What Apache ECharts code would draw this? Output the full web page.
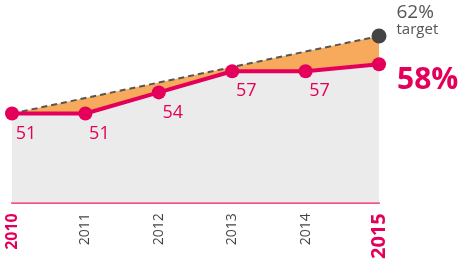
<!DOCTYPE html>
<html><head><meta charset="utf-8">
<script src="https://cdn.jsdelivr.net/npm/echarts@6/dist/echarts.min.js"></script>
<style>html,body{margin:0;padding:0;background:#fff}#c{width:460px;height:262px}</style>
</head><body><div id="c"></div>
<script>
const years = ['2010','2011','2012','2013','2014','2015'];
const actual = [51, 51, 54, 57, 57, 58];
const target = [51, null, null, null, null, 62];
const targetLabel = '62%';
const targetNote = 'target';
const finalLabel = '58%';

const PINK = '#e4005a';
const FONT = '"Open Sans", "Noto Sans", sans-serif';
const last = years.length - 1;

const actualData = actual.map((v, i) => {
  if (i === last) {
    return { value: v, label: { show: true, position: 'right', distance: 11, offset: [0, 16],
      formatter: finalLabel, fontSize: 30, fontWeight: 'bold', color: PINK, fontFamily: FONT } };
  }
  return { value: v };
});
const targetData = target.map((v, i) => {
  if (i === last) {
    return { value: v, symbol: 'circle', symbolSize: 15,
      itemStyle: { color: '#444' },
      label: { show: true, position: 'right', distance: 10, offset: [0, -16],
        formatter: '{a|' + targetLabel + '}\n{b|' + targetNote + '}',
        rich: { a: { fontSize: 19, color: '#555', fontFamily: FONT, lineHeight: 20 },
                b: { fontSize: 15, color: '#555', fontFamily: FONT, lineHeight: 15 } } } };
  }
  return { value: v, symbol: 'none' };
});

const chart = echarts.init(document.getElementById('c'), null, { renderer: 'canvas' });
chart.setOption({
  animation: false,
  grid: { left: 12, right: 81, top: 10, bottom: 57 },
  xAxis: {
    type: 'category', data: years, boundaryGap: false,
    axisLine: { lineStyle: { color: '#f0508a', width: 2 } },
    axisTick: { show: false },
    axisLabel: {
      rotate: 90, margin: 11, interval: 0,
      formatter: (v, i) => i === 0 ? '{s|' + v + '}' : (i === last ? '{l|' + v + '}' : '{n|' + v + '}'),
      rich: {
        n: { fontSize: 14, color: '#444', fontFamily: FONT },
        s: { fontSize: 16, color: PINK, fontWeight: 'bold', fontFamily: FONT },
        l: { fontSize: 20, color: PINK, fontWeight: 'bold', fontFamily: FONT }
      }
    }
  },
  yAxis: { type: 'value', min: 38.4, max: 65.7, show: false, splitLine: { show: false } },
  series: [
    {
      type: 'line', data: targetData, connectNulls: true, z: 2,
      lineStyle: { color: '#555', width: 2, type: [6, 4] },
      areaStyle: { color: '#f7aa5c', opacity: 1 },
      itemStyle: { color: '#444' }
    },
    {
      type: 'line', data: actualData, z: 3,
      symbol: 'circle', symbolSize: 14,
      lineStyle: { color: PINK, width: 4 },
      itemStyle: { color: PINK },
      areaStyle: { color: '#ebebeb', opacity: 1 },
      label: { show: true, position: 'bottom', distance: 4, offset: [14, 0],
        fontSize: 18, color: PINK, fontFamily: FONT }
    }
  ]
});
</script></body></html>
